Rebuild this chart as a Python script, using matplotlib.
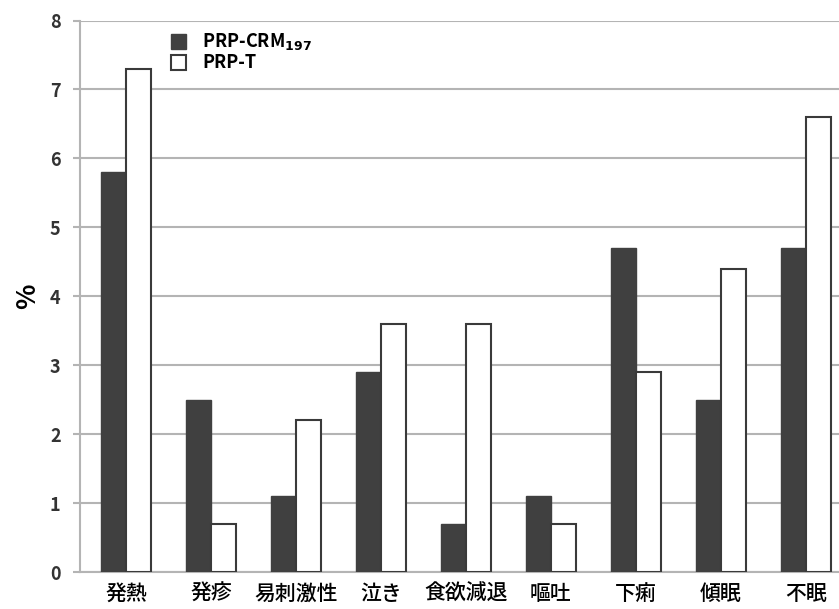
import numpy as np
import matplotlib
matplotlib.use("Agg")
import matplotlib.pyplot as plt

plt.rcParams['font.family'] = ['Noto Sans CJK JP', 'DejaVu Sans']

# data
categories = ["発熱", "発疹", "易刺激性", "泣き", "食欲減退", "嘔吐", "下痢", "傾眠", "不眠"]
prp_crm = [5.8, 2.5, 1.1, 2.9, 0.7, 1.1, 4.7, 2.5, 4.7]
prp_t = [7.3, 0.7, 2.2, 3.6, 3.6, 0.7, 2.9, 4.4, 6.6]

fig = plt.figure(figsize=(8.39, 6.09), dpi=100)
ax = fig.add_axes([80/839, 37/609, 759/839, 551.5/609])

x = np.arange(len(categories))
w = 0.29
ax.bar(x - w/2, prp_crm, w, color="#404040", edgecolor="#404040", linewidth=1,
       label=r"PRP-CRM$_{\mathbf{197}}$", zorder=3)
ax.bar(x + w/2, prp_t, w, color="white", edgecolor="#3a3a3a", linewidth=1.5,
       label="PRP-T", zorder=3)

ax.set_xlim(-0.54, 8.39)
ax.set_ylim(0, 8)
ax.set_yticks(range(0, 9))
ax.yaxis.grid(True, color="#b4b4b4", linewidth=1.5, zorder=0)
ax.set_xticks(x)
ax.set_xticklabels(categories, fontsize=15, fontweight="medium")
ax.tick_params(axis="x", length=0, pad=8)
ax.tick_params(axis="y", length=5, color="#b4b4b4", width=1.5, labelsize=13, pad=9)
for t in ax.get_yticklabels():
    t.set_fontweight("bold")
    t.set_color("#333333")
ax.set_ylabel("%", fontsize=19, fontweight="bold", labelpad=6)

for s in ["top", "right"]:
    ax.spines[s].set_visible(False)
ax.spines["left"].set_color("#b4b4b4")
ax.spines["left"].set_linewidth(1.5)
ax.spines["bottom"].set_color("#b4b4b4")
ax.spines["bottom"].set_linewidth(1.5)

leg = ax.legend(loc="upper left", bbox_to_anchor=(0.105, 1.0), frameon=False,
                prop={"size": 13, "weight": "bold"}, handlelength=0.85,
                handleheight=0.9, handletextpad=0.9, labelspacing=0.05,
                borderaxespad=0.2)

fig.savefig("out.png", dpi=100)
